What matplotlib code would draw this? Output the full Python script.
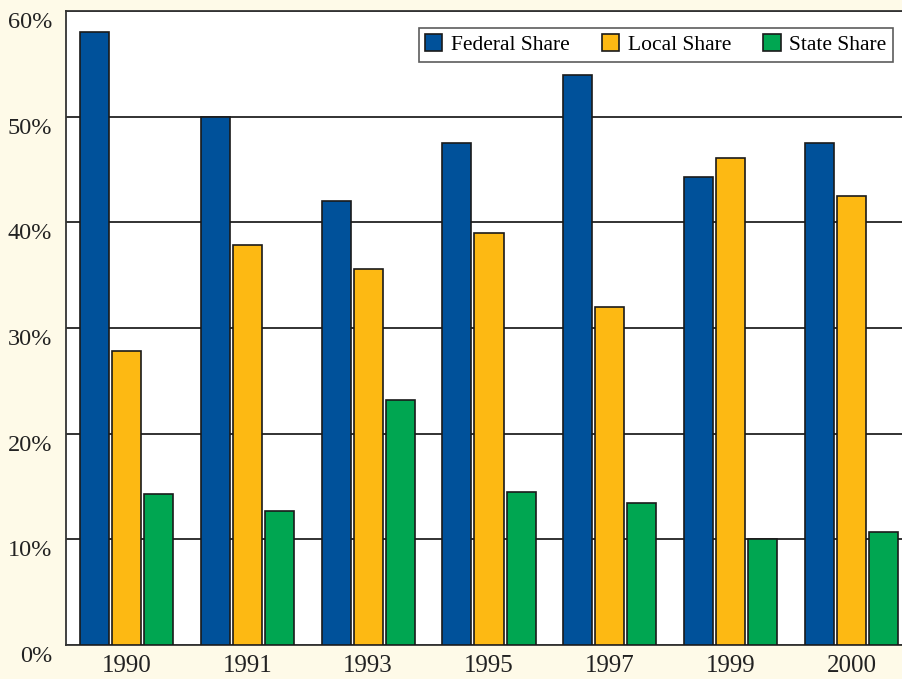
import matplotlib.pyplot as plt
import numpy as np
from matplotlib.transforms import ScaledTranslation

# data
years = ['1990', '1991', '1993', '1995', '1997', '1999', '2000']
federal = [58.0, 50.0, 42.0, 47.5, 53.9, 44.3, 47.5]
local = [27.8, 37.9, 35.6, 39.0, 32.0, 46.1, 42.5]
state = [14.3, 12.7, 23.2, 14.5, 13.4, 10.0, 10.7]

series_names = ['Federal Share', 'Local Share', 'State Share']
colors = ['#00519A', '#FDB913', '#00A651']

plt.rcParams['font.family'] = ['Liberation Serif', 'DejaVu Serif']

fig = plt.figure(figsize=(9.03, 6.79), dpi=100)
fig.patch.set_facecolor('#FEFAE8')
ax = fig.add_axes([66 / 903, 34 / 679, 846 / 903, 634 / 679])
ax.set_facecolor('white')

x = np.arange(len(years))
w = 0.24
off = 0.265
for i, (vals, name, c) in enumerate(zip([federal, local, state], series_names, colors)):
    ax.bar(x + (i - 1) * off, vals, width=w, color=c, edgecolor='#1a1a1a',
           linewidth=1.2, label=name, zorder=3)

ax.set_xlim(-0.5, 6.5)
ax.set_ylim(0, 60)
ax.set_yticks(np.arange(0, 61, 10))
ax.set_yticklabels([f'{v}%' for v in range(0, 61, 10)])
ax.set_xticks(x)
ax.set_xticklabels(years)
ax.yaxis.grid(True, color='#222222', linewidth=1.3, zorder=0)
ax.tick_params(axis='both', length=0, colors='#222222')
ax.tick_params(axis='y', pad=10, labelsize=17.5)
ax.tick_params(axis='x', pad=7, labelsize=18)
for label in ax.get_yticklabels():
    label.set_transform(label.get_transform() + ScaledTranslation(0, -9 / 100, fig.dpi_scale_trans))
for s in ax.spines.values():
    s.set_color('#333333')
    s.set_linewidth(1.3)

leg = fig.legend(loc='upper right', bbox_to_anchor=(893 / 903, 1 - 28 / 679),
                 ncol=3, fontsize=15.5, frameon=True, fancybox=False,
                 edgecolor='#333333', borderaxespad=0, handlelength=0.8,
                 handleheight=0.8, handletextpad=0.4, columnspacing=1.5,
                 borderpad=0.3)
leg.get_frame().set_linewidth(1.2)

plt.savefig('out.png', dpi=100, facecolor=fig.get_facecolor())
